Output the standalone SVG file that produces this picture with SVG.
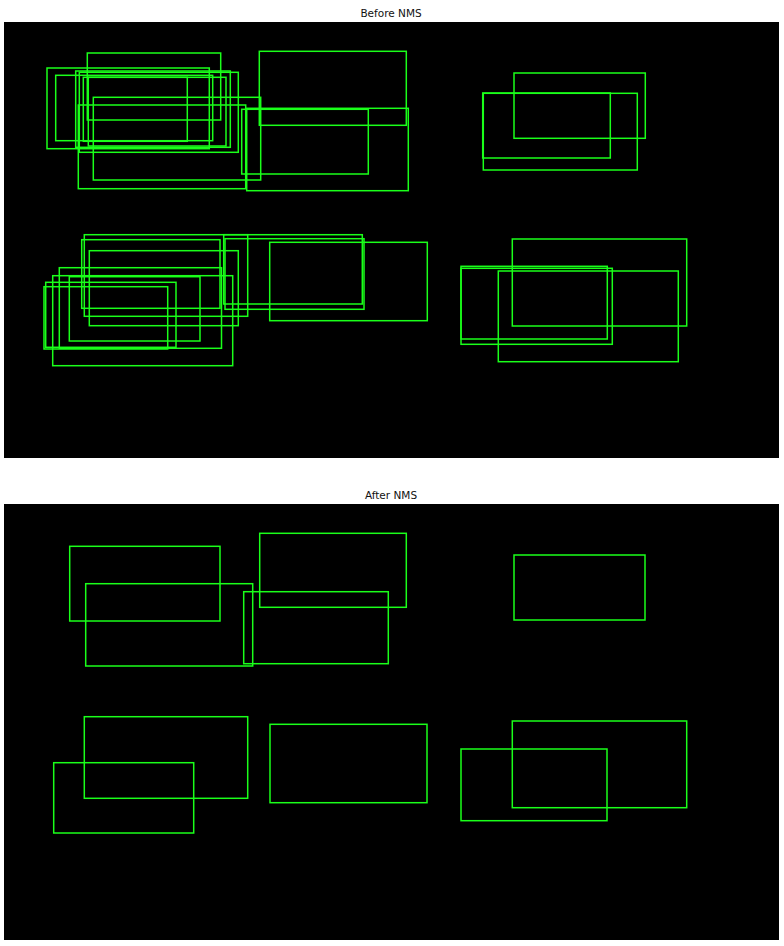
<svg xmlns="http://www.w3.org/2000/svg" width="784" height="946" viewBox="0 0 784 946">
<style>
.title{font-family:"DejaVu Sans","Liberation Sans",sans-serif;font-size:10.5px;fill:#111;text-anchor:middle}
.panel{fill:#000}
.box{fill:none;stroke:#1aff1a;stroke-width:1.5}
</style>
<rect width="784" height="946" fill="#fff"/>
<g id="before">
<text class="title" x="391" y="17">Before NMS</text>
<rect class="panel" x="4" y="22" width="775" height="436"/>
<g id="before-boxes">
<rect class="box" x="87.3" y="53" width="133.4" height="67"/>
<rect class="box" x="47" y="68" width="162.3" height="80.7"/>
<rect class="box" x="75.7" y="71" width="154.6" height="76.3"/>
<rect class="box" x="79.3" y="72.3" width="159" height="80"/>
<rect class="box" x="55.7" y="75.3" width="157" height="65.4"/>
<rect class="box" x="83.3" y="77.3" width="104" height="64"/>
<rect class="box" x="88.3" y="77.3" width="137.7" height="68.7"/>
<rect class="box" x="93.3" y="97.3" width="167.4" height="82.7"/>
<rect class="box" x="78.3" y="105" width="167.4" height="83.7"/>
<rect class="box" x="259.3" y="51.3" width="147" height="74"/>
<rect class="box" x="241.7" y="109.3" width="126.6" height="64.7"/>
<rect class="box" x="246.7" y="108.3" width="161.6" height="82.4"/>
<rect class="box" x="514" y="73" width="131.3" height="65.3"/>
<rect class="box" x="482.7" y="93" width="127.6" height="65"/>
<rect class="box" x="483.3" y="93.3" width="154" height="76.7"/>
<rect class="box" x="84.3" y="234.7" width="163.4" height="81.6"/>
<rect class="box" x="81.7" y="239.7" width="138.3" height="68.6"/>
<rect class="box" x="89.3" y="250.7" width="149" height="75"/>
<rect class="box" x="59.3" y="267.7" width="162.2" height="80.6"/>
<rect class="box" x="52.7" y="275.7" width="180" height="90"/>
<rect class="box" x="69.3" y="276.7" width="130.7" height="64.3"/>
<rect class="box" x="45.7" y="282.3" width="130.3" height="65"/>
<rect class="box" x="44" y="286.7" width="123.7" height="62.3"/>
<rect class="box" x="223.7" y="234.7" width="138.6" height="69.3"/>
<rect class="box" x="225" y="238.7" width="139" height="70.6"/>
<rect class="box" x="269.7" y="242.3" width="157.6" height="78.4"/>
<rect class="box" x="512.3" y="239" width="174.4" height="87"/>
<rect class="box" x="461" y="266.3" width="146.3" height="72.7"/>
<rect class="box" x="461" y="268.3" width="151.3" height="76"/>
<rect class="box" x="498.3" y="271" width="180" height="90.7"/>
</g>
</g>
<g id="after">
<text class="title" x="391" y="499">After NMS</text>
<rect class="panel" x="4" y="504" width="775" height="436"/>
<g id="after-boxes">
<rect class="box" x="69.7" y="546.3" width="150.3" height="74.7"/>
<rect class="box" x="85.7" y="583.7" width="167" height="82.3"/>
<rect class="box" x="259.7" y="533.3" width="146.6" height="74"/>
<rect class="box" x="243.7" y="591.7" width="144.6" height="72"/>
<rect class="box" x="514" y="555" width="131" height="65"/>
<rect class="box" x="84.3" y="716.7" width="163.4" height="81.6"/>
<rect class="box" x="53.7" y="762.7" width="140" height="70.3"/>
<rect class="box" x="270" y="724.3" width="157" height="78.4"/>
<rect class="box" x="512.3" y="721" width="174.4" height="86.7"/>
<rect class="box" x="461" y="749" width="146" height="71.7"/>
</g>
</g>
</svg>
